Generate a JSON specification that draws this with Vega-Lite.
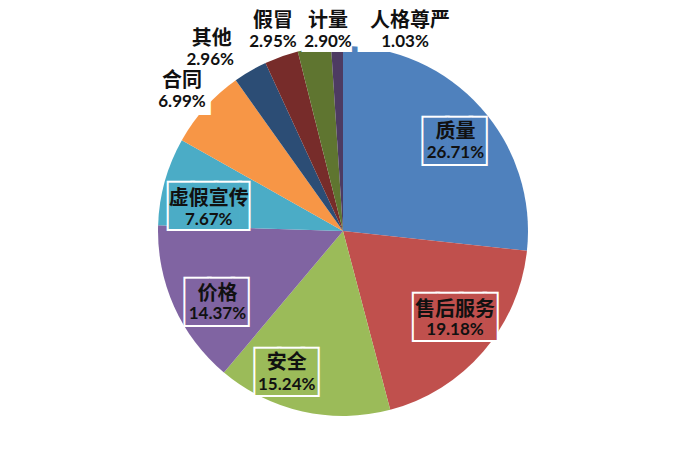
{
  "$schema": "https://vega.github.io/schema/vega-lite/v6.json",
  "width": 700,
  "height": 468,
  "autosize": {"type": "fit", "contains": "padding"},
  "padding": {"left": 0, "top": 4, "right": 14, "bottom": 0},
  "background": "white",
  "view": {"stroke": null},
  "data": {
    "values": [
      {"category": "质量", "value": 0.2671, "rank": 1},
      {"category": "售后服务", "value": 0.1918, "rank": 2},
      {"category": "安全", "value": 0.1524, "rank": 3},
      {"category": "价格", "value": 0.1437, "rank": 4},
      {"category": "虚假宣传", "value": 0.0767, "rank": 5},
      {"category": "合同", "value": 0.0699, "rank": 6},
      {"category": "其他", "value": 0.0296, "rank": 7},
      {"category": "假冒", "value": 0.0295, "rank": 8},
      {"category": "计量", "value": 0.029, "rank": 9},
      {"category": "人格尊严", "value": 0.0103, "rank": 10}
    ]
  },
  "encoding": {
    "theta": {"field": "value", "type": "quantitative", "stack": true},
    "order": {"field": "rank", "type": "quantitative"},
    "color": {
      "field": "category",
      "type": "nominal",
      "legend": null,
      "scale": {
        "domain": ["质量", "售后服务", "安全", "价格", "虚假宣传", "合同", "其他", "假冒", "计量", "人格尊严"],
        "range": ["#4F81BD", "#C0504D", "#9BBB59", "#8064A2", "#4BACC6", "#F79646", "#2C4D75", "#772C2A", "#5F7530", "#4D3B62"]
      }
    }
  },
  "layer": [
    {"mark": {"type": "arc", "radius": 185}},
    {
      "layer": [
        {"mark": {"type": "text", "radius": 143, "font": "DejaVu Sans Mono", "fontSize": 39, "align": "left", "baseline": "alphabetic", "dx": -25.6, "dy": 18.3, "stroke": "white", "strokeWidth": 4}, "encoding": {"text": {"condition": {"test": "datum.category === '质量'", "value": "██▋"}, "value": ""}}},
        {"mark": {"type": "text", "radius": 143, "font": "DejaVu Sans Mono", "fontSize": 39, "align": "left", "baseline": "alphabetic", "dx": -25.6, "dy": 18.3}, "encoding": {"text": {"condition": {"test": "datum.category === '质量'", "value": "██▋"}, "value": ""}}},
        {"mark": {"type": "text", "radius": 143, "font": "Noto Sans CJK SC", "fontWeight": "bold", "fontSize": 20, "baseline": "middle", "dx": 6, "dy": -3}, "encoding": {"text": {"condition": {"test": "datum.category === '质量'", "field": "category"}, "value": ""}, "color": {"value": "#111111"}}},
        {"mark": {"type": "text", "radius": 143, "font": "Lato", "fontWeight": "bold", "fontSize": 17, "baseline": "middle", "dx": 6, "dy": 18}, "encoding": {"text": {"condition": {"test": "datum.category === '质量'", "field": "value", "type": "quantitative", "format": ".2%"}, "value": ""}, "color": {"value": "#111111"}}}
      ]
    },
    {
      "layer": [
        {"mark": {"type": "text", "radius": 143, "font": "DejaVu Sans Mono", "fontSize": 39, "align": "left", "baseline": "alphabetic", "dx": -37.1, "dy": 5.3, "stroke": "white", "strokeWidth": 4}, "encoding": {"text": {"condition": {"test": "datum.category === '售后服务'", "value": "███▌"}, "value": ""}}},
        {"mark": {"type": "text", "radius": 143, "font": "DejaVu Sans Mono", "fontSize": 39, "align": "left", "baseline": "alphabetic", "dx": -37.1, "dy": 5.3}, "encoding": {"text": {"condition": {"test": "datum.category === '售后服务'", "value": "███▌"}, "value": ""}}},
        {"mark": {"type": "text", "radius": 143, "font": "Noto Sans CJK SC", "fontWeight": "bold", "fontSize": 20, "baseline": "middle", "dx": 3.6, "dy": -14}, "encoding": {"text": {"condition": {"test": "datum.category === '售后服务'", "field": "category"}, "value": ""}, "color": {"value": "#111111"}}},
        {"mark": {"type": "text", "radius": 143, "font": "Lato", "fontWeight": "bold", "fontSize": 17, "baseline": "middle", "dx": 3.6, "dy": 5.5}, "encoding": {"text": {"condition": {"test": "datum.category === '售后服务'", "field": "value", "type": "quantitative", "format": ".2%"}, "value": ""}, "color": {"value": "#111111"}}}
      ]
    },
    {
      "layer": [
        {"mark": {"type": "text", "radius": 143, "font": "DejaVu Sans Mono", "fontSize": 39, "align": "left", "baseline": "alphabetic", "dx": -55.9, "dy": 14, "stroke": "white", "strokeWidth": 4}, "encoding": {"text": {"condition": {"test": "datum.category === '安全'", "value": "██▋"}, "value": ""}}},
        {"mark": {"type": "text", "radius": 143, "font": "DejaVu Sans Mono", "fontSize": 39, "align": "left", "baseline": "alphabetic", "dx": -55.9, "dy": 14}, "encoding": {"text": {"condition": {"test": "datum.category === '安全'", "value": "██▋"}, "value": ""}}},
        {"mark": {"type": "text", "radius": 143, "font": "Noto Sans CJK SC", "fontWeight": "bold", "fontSize": 20, "baseline": "middle", "dx": -25, "dy": -8}, "encoding": {"text": {"condition": {"test": "datum.category === '安全'", "field": "category"}, "value": ""}, "color": {"value": "#111111"}}},
        {"mark": {"type": "text", "radius": 143, "font": "Lato", "fontWeight": "bold", "fontSize": 17, "baseline": "middle", "dx": -25, "dy": 14}, "encoding": {"text": {"condition": {"test": "datum.category === '安全'", "field": "value", "type": "quantitative", "format": ".2%"}, "value": ""}, "color": {"value": "#111111"}}}
      ]
    },
    {
      "layer": [
        {"mark": {"type": "text", "radius": 143, "font": "DejaVu Sans Mono", "fontSize": 39, "align": "left", "baseline": "alphabetic", "dx": -26.6, "dy": 25.2, "stroke": "white", "strokeWidth": 4}, "encoding": {"text": {"condition": {"test": "datum.category === '价格'", "value": "██▋"}, "value": ""}}},
        {"mark": {"type": "text", "radius": 143, "font": "DejaVu Sans Mono", "fontSize": 39, "align": "left", "baseline": "alphabetic", "dx": -26.6, "dy": 25.2}, "encoding": {"text": {"condition": {"test": "datum.category === '价格'", "value": "██▋"}, "value": ""}}},
        {"mark": {"type": "text", "radius": 143, "font": "Noto Sans CJK SC", "fontWeight": "bold", "fontSize": 20, "baseline": "middle", "dx": 5, "dy": 5}, "encoding": {"text": {"condition": {"test": "datum.category === '价格'", "field": "category"}, "value": ""}, "color": {"value": "#111111"}}},
        {"mark": {"type": "text", "radius": 143, "font": "Lato", "fontWeight": "bold", "fontSize": 17, "baseline": "middle", "dx": 5, "dy": 25}, "encoding": {"text": {"condition": {"test": "datum.category === '价格'", "field": "value", "type": "quantitative", "format": ".2%"}, "value": ""}, "color": {"value": "#111111"}}}
      ]
    },
    {
      "layer": [
        {"mark": {"type": "text", "radius": 143, "font": "DejaVu Sans Mono", "fontSize": 39, "align": "left", "baseline": "alphabetic", "dx": -36.2, "dy": 26, "stroke": "white", "strokeWidth": 4}, "encoding": {"text": {"condition": {"test": "datum.category === '虚假宣传'", "value": "███▍"}, "value": ""}}},
        {"mark": {"type": "text", "radius": 143, "font": "DejaVu Sans Mono", "fontSize": 39, "align": "left", "baseline": "alphabetic", "dx": -36.2, "dy": 26}, "encoding": {"text": {"condition": {"test": "datum.category === '虚假宣传'", "value": "███▍"}, "value": ""}}},
        {"mark": {"type": "text", "radius": 143, "font": "Noto Sans CJK SC", "fontWeight": "bold", "fontSize": 20, "baseline": "middle", "dx": 3.5, "dy": 6.8}, "encoding": {"text": {"condition": {"test": "datum.category === '虚假宣传'", "field": "category"}, "value": ""}, "color": {"value": "#111111"}}},
        {"mark": {"type": "text", "radius": 143, "font": "Lato", "fontWeight": "bold", "fontSize": 17, "baseline": "middle", "dx": 3.5, "dy": 27}, "encoding": {"text": {"condition": {"test": "datum.category === '虚假宣传'", "field": "value", "type": "quantitative", "format": ".2%"}, "value": ""}, "color": {"value": "#111111"}}}
      ]
    },
    {
      "layer": [
        {"mark": {"type": "text", "radius": 215, "font": "DejaVu Sans Mono", "fontSize": 43, "align": "left", "baseline": "alphabetic", "dx": -30.2, "dy": 17.3, "color": "white"}, "encoding": {"color": {"value": "white"}, "text": {"condition": {"test": "datum.category === '合同'", "value": "██▎"}, "value": ""}}},
        {"mark": {"type": "text", "radius": 215, "font": "Noto Sans CJK SC", "fontWeight": "bold", "fontSize": 20, "baseline": "middle", "dx": -1.2, "dy": -6}, "encoding": {"text": {"condition": {"test": "datum.category === '合同'", "field": "category"}, "value": ""}, "color": {"value": "#111111"}}},
        {"mark": {"type": "text", "radius": 215, "font": "Lato", "fontWeight": "bold", "fontSize": 17, "baseline": "middle", "dx": -1.2, "dy": 15}, "encoding": {"text": {"condition": {"test": "datum.category === '合同'", "field": "value", "type": "quantitative", "format": ".2%"}, "value": ""}, "color": {"value": "#111111"}}}
      ]
    },
    {
      "layer": [
        {"mark": {"type": "text", "radius": 215, "font": "Noto Sans CJK SC", "fontWeight": "bold", "fontSize": 20, "baseline": "middle", "dx": -23.5, "dy": -5.5}, "encoding": {"text": {"condition": {"test": "datum.category === '其他'", "field": "category"}, "value": ""}, "color": {"value": "#111111"}}},
        {"mark": {"type": "text", "radius": 215, "font": "Lato", "fontWeight": "bold", "fontSize": 17, "baseline": "middle", "dx": -25, "dy": 15.5}, "encoding": {"text": {"condition": {"test": "datum.category === '其他'", "field": "value", "type": "quantitative", "format": ".2%"}, "value": ""}, "color": {"value": "#111111"}}}
      ]
    },
    {
      "layer": [
        {"mark": {"type": "text", "radius": 215, "font": "DejaVu Sans Mono", "fontSize": 41, "align": "left", "baseline": "alphabetic", "dx": -7.6, "dy": 23}, "encoding": {"color": {"value": "white"}, "text": {"condition": {"test": "datum.category === '计量'", "value": "██"}, "value": ""}}},
        {"mark": {"type": "text", "radius": 215, "font": "Noto Sans CJK SC", "fontWeight": "bold", "fontSize": 20, "baseline": "middle", "dx": 18.4, "dy": 2.4}, "encoding": {"text": {"condition": {"test": "datum.category === '计量'", "field": "category"}, "value": ""}, "color": {"value": "#111111"}}},
        {"mark": {"type": "text", "radius": 215, "font": "Lato", "fontWeight": "bold", "fontSize": 17, "baseline": "middle", "dx": 18.4, "dy": 23.5}, "encoding": {"text": {"condition": {"test": "datum.category === '计量'", "field": "value", "type": "quantitative", "format": ".2%"}, "value": ""}, "color": {"value": "#111111"}}}
      ]
    },
    {
      "layer": [
        {"mark": {"type": "text", "radius": 215, "font": "Noto Sans CJK SC", "fontWeight": "bold", "fontSize": 20, "baseline": "middle", "dx": 1.6, "dy": -7.3}, "encoding": {"text": {"condition": {"test": "datum.category === '假冒'", "field": "category"}, "value": ""}, "color": {"value": "#111111"}}},
        {"mark": {"type": "text", "radius": 215, "font": "Lato", "fontWeight": "bold", "fontSize": 17, "baseline": "middle", "dx": 1.6, "dy": 13.8}, "encoding": {"text": {"condition": {"test": "datum.category === '假冒'", "field": "value", "type": "quantitative", "format": ".2%"}, "value": ""}, "color": {"value": "#111111"}}}
      ]
    },
    {
      "layer": [
        {"mark": {"type": "text", "radius": 215, "font": "DejaVu Sans Mono", "fontSize": 41, "align": "left", "baseline": "alphabetic", "dx": 21.9, "dy": 26}, "encoding": {"color": {"value": "white"}, "text": {"condition": {"test": "datum.category === '人格尊严'", "value": "███▋"}, "value": ""}}},
        {"mark": {"type": "text", "radius": 215, "font": "Noto Sans CJK SC", "fontWeight": "bold", "fontSize": 20, "baseline": "middle", "dx": 74, "dy": 4.9}, "encoding": {"text": {"condition": {"test": "datum.category === '人格尊严'", "field": "category"}, "value": ""}, "color": {"value": "#111111"}}},
        {"mark": {"type": "text", "radius": 215, "font": "Lato", "fontWeight": "bold", "fontSize": 17, "baseline": "middle", "dx": 69, "dy": 26}, "encoding": {"text": {"condition": {"test": "datum.category === '人格尊严'", "field": "value", "type": "quantitative", "format": ".2%"}, "value": ""}, "color": {"value": "#111111"}}}
      ]
    }
  ]
}
